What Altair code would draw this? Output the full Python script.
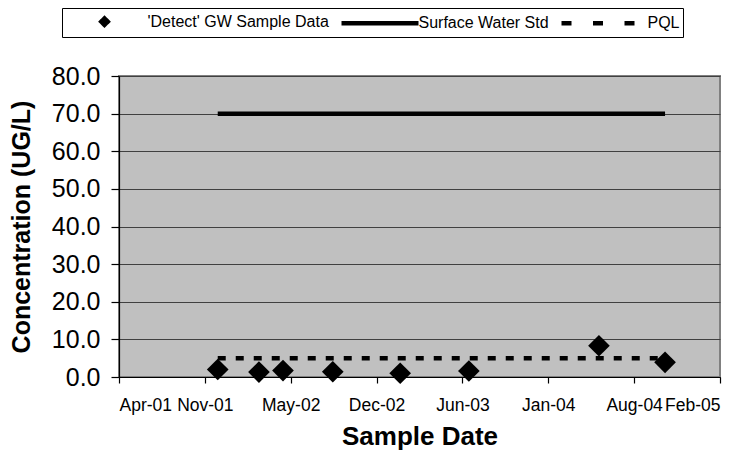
import altair as alt
import pandas as pd

# ---- data ----
sample_dates = ["2001-12-05", "2002-03-11", "2002-05-06", "2002-08-30",
                "2003-02-03", "2003-07-13", "2004-05-11", "2004-10-12"]
sample_values = [2.0, 1.3, 1.7, 1.4, 1.0, 1.6, 8.3, 3.9]
line_dates = [sample_dates[0], sample_dates[-1]]
surface_std_values = [70.0, 70.0]
pql_values = [5.0, 5.0]
series_names = ["'Detect' GW Sample Data", "Surface Water Std", "PQL"]
x_tick_dates = [(2001, 4, 19), (2001, 11, 5), (2002, 5, 24), (2002, 12, 10),
                (2003, 6, 28), (2004, 1, 14), (2004, 8, 1), (2005, 2, 17)]
y_ticks = [0, 10, 20, 30, 40, 50, 60, 70, 80]

samples = pd.DataFrame({"date": sample_dates, "value": sample_values,
                        "series": series_names[0]})
surface = pd.DataFrame({"date": line_dates, "value": surface_std_values,
                        "series": series_names[1]})
pql = pd.DataFrame({"date": line_dates, "value": pql_values,
                    "series": series_names[2]})


def dt(t):
    return alt.DateTime(year=t[0], month=t[1], date=t[2], utc=True)


FONT = "Liberation Sans"

x_enc = alt.X(
    "date:T",
    scale=alt.Scale(type="utc", domain=[dt(x_tick_dates[0]), dt(x_tick_dates[-1])]),
    axis=alt.Axis(values=[dt(t) for t in x_tick_dates], format="%b-%y",
                  title="Sample Date", grid=False, tickSize=6, labelPadding=13,
                  labelFontSize=17.5, titleFontSize=26, titleY=67,
                  titleBaseline="alphabetic"),
)
y_enc = alt.Y(
    "value:Q",
    scale=alt.Scale(domain=[0, 80], nice=False),
    axis=alt.Axis(values=y_ticks, format=".1f", title="Concentration (UG/L)",
                  grid=True, tickSize=8, labelPadding=11, labelFontSize=25,
                  titleFontSize=25, titleX=-98, titleY=150.5,
                  titleAngle=270, titleBaseline="middle", titleAlign="center"),
)

legend_shapes = ["M-0.4,0L0,-0.4L0.4,0L0,0.4Z", "M-4.25,0H5.375", "M-5.375,0H3.75"]
legend_dashes = [[1, 0], [1, 0], [10, 21.5]]
legend_colors = ["black", "black", "black"]

leg = dict(orient="none", direction="horizontal", legendX=-57, legendY=-68,
           title="\u00a0", titleOrient="left", titlePadding=29, titleFontSize=16,
           labelFont=FONT, labelFontSize=16, labelColor="black", labelOffset=32.5,
           labelLimit=400, columnPadding=3, padding=3, strokeColor="black",
           cornerRadius=0, symbolSize=256, symbolStrokeWidth=4.5,
           symbolStrokeColor="black", symbolFillColor="black", symbolOpacity=1)

legend_layer = alt.Chart(samples).mark_point(
    filled=True, strokeWidth=4.5, size=256, opacity=1
).encode(
    x=x_enc, y=y_enc,
    color=alt.Color("series:N", scale=alt.Scale(domain=series_names, range=legend_colors),
                    legend=alt.Legend(**leg)),
    stroke=alt.Stroke("series:N", scale=alt.Scale(domain=series_names, range=legend_colors),
                      legend=alt.Legend(**leg)),
    shape=alt.Shape("series:N", scale=alt.Scale(domain=series_names, range=legend_shapes),
                    legend=alt.Legend(**leg)),
    strokeDash=alt.StrokeDash("series:N", scale=alt.Scale(domain=series_names, range=legend_dashes),
                              legend=alt.Legend(**leg)),
)

surface_line = alt.Chart(surface).mark_line(
    color="black", strokeWidth=4.5, strokeCap="butt"
).encode(x=x_enc, y=y_enc)

pql_line = alt.Chart(pql).mark_line(
    color="black", strokeWidth=4.5, strokeCap="butt", strokeDash=[8, 10]
).encode(x=x_enc, y=y_enc)

points = alt.Chart(samples).mark_point(
    shape="diamond", filled=True, color="black", size=470, opacity=1
).encode(x=x_enc, y=y_enc)

chart = alt.layer(legend_layer, surface_line, pql_line, points).properties(
    width=601, height=301, autosize="none",
    padding={"left": 111, "top": 68, "right": 23, "bottom": 76},
    background="white",
).configure_view(
    fill="#C0C0C0", stroke="#808080", strokeWidth=2
).configure_axis(
    labelFont=FONT, titleFont=FONT, labelColor="black", titleColor="black",
    titleFontWeight="bold", domainColor="black", domainWidth=1.2,
    tickColor="black", tickWidth=1.2, gridColor="#404040", gridWidth=1.2,
)

chart.save("out.html", embed_options={"renderer": "svg", "actions": False})
